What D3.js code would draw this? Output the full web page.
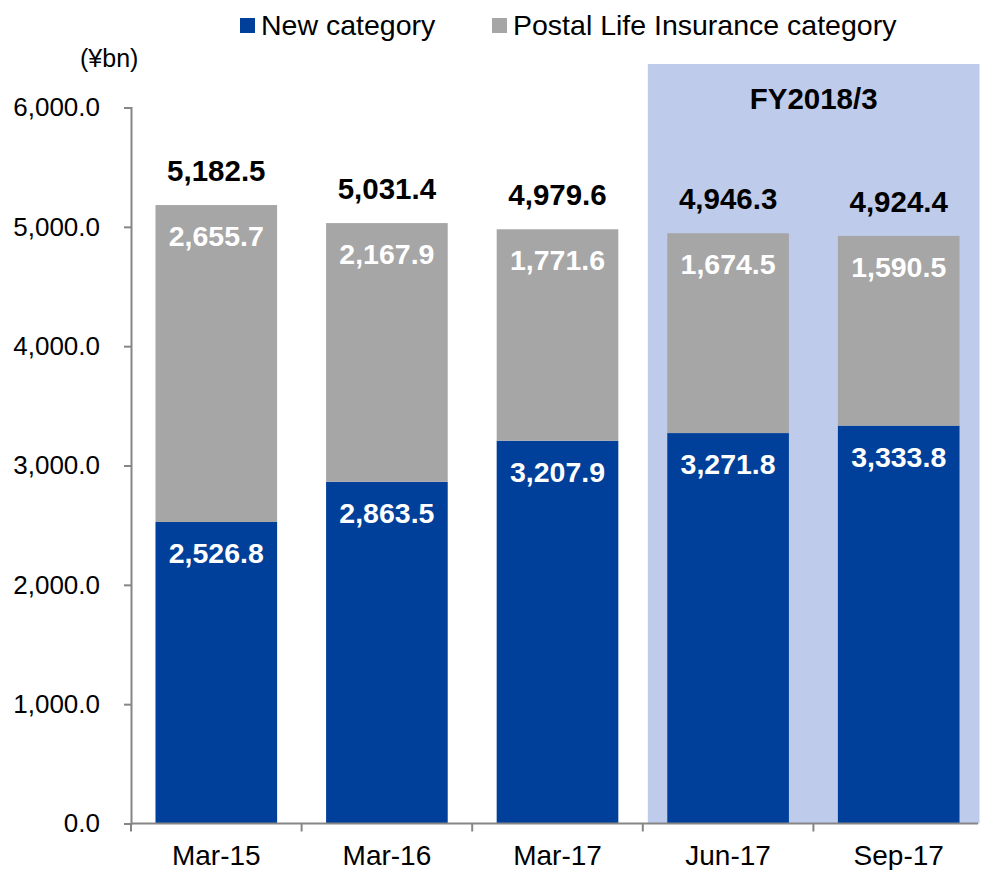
<!DOCTYPE html>
<html>
<head>
<meta charset="utf-8">
<script src="https://cdn.jsdelivr.net/npm/d3@7"></script>
<style>
  body { margin: 0; background: #fff; }
  text { font-family: Arial, "Liberation Sans", sans-serif; }
</style>
</head>
<body>
<svg id="chart"></svg>
<script>
// Data
const periods = ["Mar-15", "Mar-16", "Mar-17", "Jun-17", "Sep-17"];
const newCategory = [2526.8, 2863.5, 3207.9, 3271.8, 3333.8];
const postalCategory = [2655.7, 2167.9, 1771.6, 1674.5, 1590.5];
const totals = [5182.5, 5031.4, 4979.6, 4946.3, 4924.4];
const yTicks = [0, 1000, 2000, 3000, 4000, 5000, 6000];
const highlightPeriods = ["Jun-17", "Sep-17"];
const highlightLabel = "FY2018/3";
const seriesNames = ["New category", "Postal Life Insurance category"];

const width = 981, height = 870;
const blue = "#00409a", gray = "#a6a6a6", highlight = "#bfcbea";

const svg = d3.select("#chart")
  .attr("width", width)
  .attr("height", height);

const fmt = d3.format(",.1f");

// Scales
const xScale = d3.scaleBand()
  .domain(periods)
  .range([131, 984])
  .paddingInner(0.287)
  .paddingOuter(0.1435);

const yScale = d3.scaleLinear()
  .domain([0, 6000])
  .range([823.5, 107.5]);

const colorScale = d3.scaleOrdinal()
  .domain(seriesNames)
  .range([blue, gray]);

// Highlight box for FY2018/3
const hx0 = xScale(highlightPeriods[0]) - xScale.step() * 0.1435 + 5;
const hx1 = xScale(highlightPeriods[1]) + xScale.bandwidth() + 20;
svg.append("rect")
  .attr("x", hx0)
  .attr("y", 64)
  .attr("width", hx1 - hx0)
  .attr("height", yScale(0) - 64)
  .attr("fill", highlight);

svg.append("text")
  .attr("x", (hx0 + hx1) / 2)
  .attr("y", 109)
  .attr("text-anchor", "middle")
  .style("font-size", "29.5px")
  .style("font-weight", "bold")
  .text(highlightLabel);

// Stacked bars
const rows = periods.map((p, i) => ({ p, n: newCategory[i], g: postalCategory[i], t: totals[i] }));

svg.selectAll(".bar-new")
  .data(rows)
  .enter().append("rect")
  .attr("class", "bar-new")
  .attr("x", d => xScale(d.p))
  .attr("width", xScale.bandwidth())
  .attr("y", d => yScale(d.n))
  .attr("height", d => yScale(0) - yScale(d.n))
  .attr("fill", colorScale(seriesNames[0]));

svg.selectAll(".bar-postal")
  .data(rows)
  .enter().append("rect")
  .attr("class", "bar-postal")
  .attr("x", d => xScale(d.p))
  .attr("width", xScale.bandwidth())
  .attr("y", d => yScale(d.n + d.g))
  .attr("height", d => yScale(d.n) - yScale(d.n + d.g))
  .attr("fill", colorScale(seriesNames[1]));

// Axes
const yAxis = svg.append("g")
  .attr("transform", "translate(131,0)")
  .call(d3.axisLeft(yScale).tickValues(yTicks).tickFormat(fmt).tickSize(7).tickPadding(24));

const xAxis = svg.append("g")
  .attr("transform", `translate(0,${yScale(0)})`)
  .call(d3.axisBottom(xScale).tickSize(0).tickPadding(22));

// x ticks sit between categories
xAxis.selectAll(".sep")
  .data(d3.range(periods.length + 1))
  .enter().append("line")
  .attr("class", "sep")
  .attr("x1", i => 131 + i * xScale.step())
  .attr("x2", i => 131 + i * xScale.step())
  .attr("y1", 0)
  .attr("y2", 8);

[yAxis, xAxis].forEach(ax => {
  ax.select(".domain").attr("stroke", "#868686").attr("stroke-width", 2);
  ax.selectAll("line").attr("stroke", "#868686").attr("stroke-width", 2);
});
xAxis.select(".domain").attr("d", "M131,0H978");
yAxis.selectAll("text").style("font-size", "26px").attr("fill", "#000");
xAxis.selectAll("text").style("font-size", "28px").attr("fill", "#000").attr("dy", "0.71em");

// unit label
svg.append("text")
  .attr("x", 80)
  .attr("y", 67)
  .style("font-size", "25px")
  .text("(¥bn)");

// Value labels
svg.selectAll(".lbl-new")
  .data(rows)
  .enter().append("text")
  .attr("x", d => xScale(d.p) + xScale.bandwidth() / 2)
  .attr("y", d => yScale(d.n) + 41)
  .attr("text-anchor", "middle")
  .attr("fill", "#fff")
  .style("font-size", "28.5px")
  .style("font-weight", "bold")
  .text(d => fmt(d.n));

svg.selectAll(".lbl-postal")
  .data(rows)
  .enter().append("text")
  .attr("x", d => xScale(d.p) + xScale.bandwidth() / 2)
  .attr("y", d => yScale(d.n + d.g) + 41)
  .attr("text-anchor", "middle")
  .attr("fill", "#fff")
  .style("font-size", "28.5px")
  .style("font-weight", "bold")
  .text(d => fmt(d.g));

svg.selectAll(".lbl-total")
  .data(rows)
  .enter().append("text")
  .attr("x", d => xScale(d.p) + xScale.bandwidth() / 2)
  .attr("y", d => yScale(d.t) - 24)
  .attr("text-anchor", "middle")
  .attr("fill", "#000")
  .style("font-size", "29.5px")
  .style("font-weight", "bold")
  .text(d => fmt(d.t));

// Legend
const legendX = [240, 492];
const legend = svg.selectAll(".legend")
  .data(seriesNames)
  .enter().append("g")
  .attr("class", "legend")
  .attr("transform", (d, i) => `translate(${legendX[i]},18)`);

legend.append("rect")
  .attr("width", 15)
  .attr("height", 15)
  .attr("fill", d => colorScale(d));

legend.append("text")
  .attr("x", 21)
  .attr("y", 17)
  .style("font-size", "28.5px")
  .text(d => d);
</script>
</body>
</html>
